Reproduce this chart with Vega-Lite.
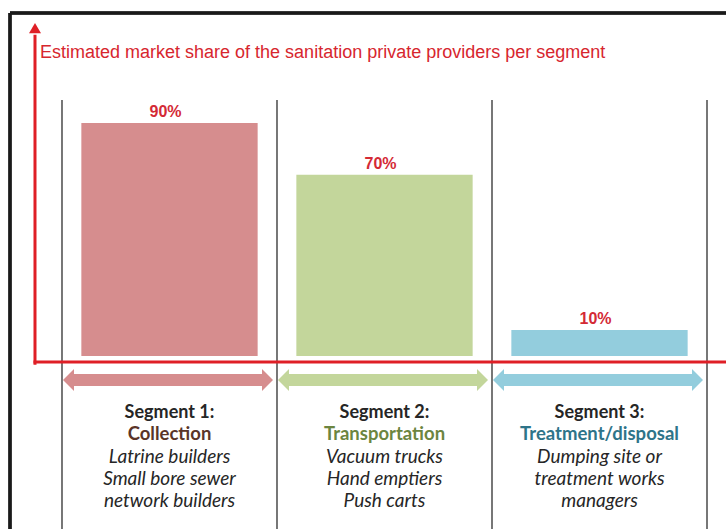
{
  "$schema": "https://vega.github.io/schema/vega-lite/v6.json",
  "width": 716,
  "height": 516,
  "autosize": {"type": "none"},
  "padding": {"left": 10, "top": 13, "right": 0, "bottom": 0},
  "background": "white",
  "config": {"view": {"stroke": null}},
  "data": {
    "values": [
      {"segment": "Segment 1", "heading": "Segment 1:", "category": "Collection", "share": 90, "label": "90%", "details": "Latrine builders\nSmall bore sewer\nnetwork builders", "title": "Estimated market share of the sanitation private providers per segment"},
      {"segment": "Segment 2", "heading": "Segment 2:", "category": "Transportation", "share": 70, "label": "70%", "details": "Vacuum trucks\nHand emptiers\nPush carts", "title": ""},
      {"segment": "Segment 3", "heading": "Segment 3:", "category": "Treatment/disposal", "share": 10, "label": "10%", "details": "Dumping site or\ntreatment works\nmanagers", "title": ""}
    ]
  },
  "layer": [
    {
      "mark": {"type": "bar", "width": {"band": 0.82}},
      "encoding": {
        "x": {"field": "segment", "type": "nominal", "axis": null,
              "scale": {"type": "band", "domain": ["Segment 1", "Segment 2", "Segment 3"], "paddingInner": 0, "paddingOuter": 0.1651, "align": 0.7324}},
        "y": {"field": "share", "type": "quantitative", "axis": null,
              "scale": {"domain": [-66.8, 132.43], "nice": false, "zero": false}},
        "y2": {"datum": 0},
        "color": {"field": "segment", "type": "nominal", "legend": null,
                  "scale": {"domain": ["Segment 1", "Segment 2", "Segment 3"], "range": ["#d68d8e", "#c3d69b", "#93cddd"]}}
      }
    },
    {
      "mark": {"type": "rule", "color": "#1a1a1a", "strokeWidth": 3},
      "encoding": {"x": {"value": 0}, "x2": {"value": "width"}, "y": {"value": 0}}
    },
    {
      "mark": {"type": "rule", "color": "#1a1a1a", "strokeWidth": 3},
      "encoding": {"x": {"value": 0}, "y": {"value": 0}, "y2": {"value": "height"}}
    },
    {
      "mark": {"type": "rule", "color": "#4a4a4a", "strokeWidth": 1.5},
      "encoding": {
        "x": {"field": "segment", "type": "nominal", "bandPosition": 0},
        "y": {"datum": 98.8, "type": "quantitative"},
        "y2": {"value": "height"}
      }
    },
    {
      "transform": [{"filter": {"field": "segment", "equal": "Segment 3"}}],
      "mark": {"type": "rule", "color": "#4a4a4a", "strokeWidth": 1.5},
      "encoding": {
        "x": {"field": "segment", "type": "nominal", "bandPosition": 1},
        "y": {"datum": 98.8, "type": "quantitative"},
        "y2": {"value": "height"}
      }
    },
    {
      "mark": {"type": "text", "font": "Liberation Sans", "fontSize": 16, "fontWeight": "bold", "color": "#d42a35", "baseline": "alphabetic", "dy": -6, "dx": -4},
      "encoding": {
        "x": {"field": "segment", "type": "nominal"},
        "y": {"field": "share", "type": "quantitative"},
        "text": {"field": "label"}
      }
    },
    {
      "transform": [{"filter": {"field": "segment", "equal": "Segment 1"}}],
      "mark": {"type": "rule", "color": "#df1f26", "strokeWidth": 3, "xOffset": -27},
      "encoding": {
        "x": {"field": "segment", "type": "nominal", "bandPosition": 0},
        "y": {"datum": -3.4, "type": "quantitative"},
        "y2": {"datum": 124}
      }
    },
    {
      "transform": [{"filter": {"field": "segment", "equal": "Segment 1"}}],
      "mark": {"type": "point", "shape": "M0,-1L-1,0.7L1,0.7Z", "size": 144, "filled": true, "opacity": 1, "color": "#df1f26", "xOffset": -27},
      "encoding": {
        "x": {"field": "segment", "type": "nominal", "bandPosition": 0},
        "y": {"datum": 126.25, "type": "quantitative"}
      }
    },
    {
      "transform": [{"filter": {"field": "segment", "equal": "Segment 1"}}],
      "mark": {"type": "rule", "color": "#df1f26", "strokeWidth": 3, "xOffset": -28.5},
      "encoding": {
        "x": {"field": "segment", "type": "nominal", "bandPosition": 0},
        "x2": {"value": "width"},
        "y": {"datum": -2.3, "type": "quantitative"}
      }
    },
    {
      "mark": {"type": "bar", "width": {"band": 0.9}},
      "encoding": {
        "x": {"field": "segment", "type": "nominal"},
        "y": {"datum": -7.0, "type": "quantitative"},
        "y2": {"datum": -11.6},
        "color": {"field": "segment", "type": "nominal"}
      }
    },
    {
      "mark": {"type": "point", "shape": "M-0.5,0L0.5,-1L0.5,1Z", "size": 484, "filled": true, "opacity": 1, "xOffset": 6.5},
      "encoding": {
        "x": {"field": "segment", "type": "nominal", "bandPosition": 0},
        "y": {"datum": -9.3, "type": "quantitative"},
        "color": {"field": "segment", "type": "nominal"}
      }
    },
    {
      "mark": {"type": "point", "shape": "M0.5,0L-0.5,-1L-0.5,1Z", "size": 484, "filled": true, "opacity": 1, "xOffset": -9.5},
      "encoding": {
        "x": {"field": "segment", "type": "nominal", "bandPosition": 1},
        "y": {"datum": -9.3, "type": "quantitative"},
        "color": {"field": "segment", "type": "nominal"}
      }
    },
    {
      "transform": [{"filter": {"field": "segment", "equal": "Segment 1"}}],
      "mark": {"type": "text", "font": "Liberation Sans", "fontSize": 18, "color": "#d7262e", "align": "left", "baseline": "alphabetic", "xOffset": -22},
      "encoding": {
        "x": {"field": "segment", "type": "nominal", "bandPosition": 0},
        "y": {"datum": 115, "type": "quantitative"},
        "text": {"field": "title"}
      }
    },
    {
      "mark": {"type": "text", "font": "Lato", "fontSize": 18, "fontWeight": "bold", "color": "#262626", "baseline": "alphabetic", "dy": 62},
      "encoding": {
        "x": {"field": "segment", "type": "nominal"},
        "y": {"datum": 0, "type": "quantitative"},
        "text": {"field": "heading"}
      }
    },
    {
      "mark": {"type": "text", "font": "Lato", "fontSize": 18.5, "fontWeight": "bold", "baseline": "alphabetic", "dy": 84},
      "encoding": {
        "x": {"field": "segment", "type": "nominal"},
        "y": {"datum": 0, "type": "quantitative"},
        "text": {"field": "category"},
        "fill": {"field": "segment", "type": "nominal", "legend": null,
                 "scale": {"domain": ["Segment 1", "Segment 2", "Segment 3"], "range": ["#5a3528", "#6c8540", "#2e7489"]}}
      }
    },
    {
      "mark": {"type": "text", "font": "Lato", "fontSize": 19, "fontStyle": "italic", "color": "#262626", "baseline": "alphabetic", "dy": 107, "lineHeight": 22, "lineBreak": "\n"},
      "encoding": {
        "x": {"field": "segment", "type": "nominal"},
        "y": {"datum": 0, "type": "quantitative"},
        "text": {"field": "details"}
      }
    }
  ]
}
